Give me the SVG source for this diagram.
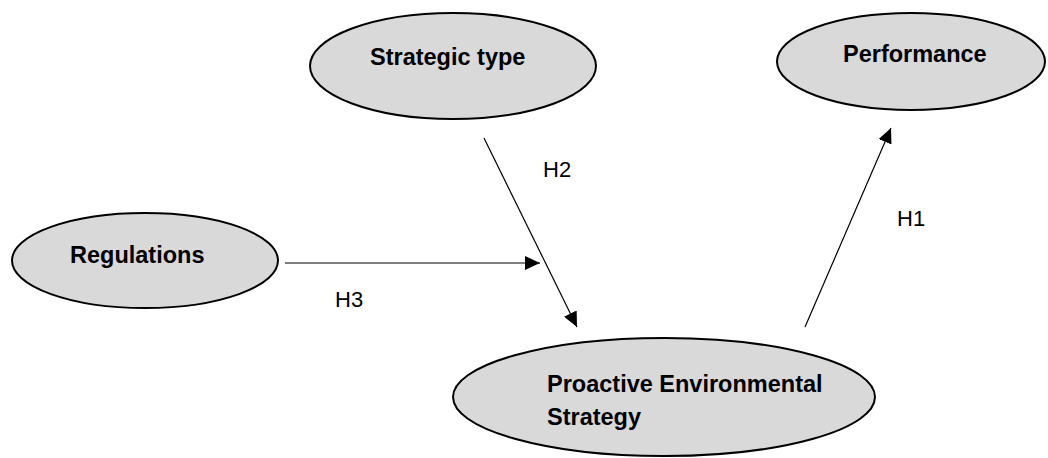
<svg xmlns="http://www.w3.org/2000/svg" width="1048" height="458" viewBox="0 0 1048 458">
  <style>
    .node ellipse { fill: #d9d9d9; stroke: #000; stroke-width: 2; }
    .node text { font-family: "Liberation Sans", Arial, sans-serif; font-weight: bold; font-size: 23.5px; fill: #000; }
    .edge line { stroke: #000; stroke-width: 1.2; fill: none; }
    .lbl { font-family: "Liberation Sans", Arial, sans-serif; font-size: 22px; fill: #000; }
  </style>
  <defs>
    <marker id="arrow" markerUnits="userSpaceOnUse" markerWidth="16" markerHeight="14" viewBox="0 0 16 14" refX="15" refY="7" orient="auto">
      <path d="M0,0 L15,7 L0,14 Z" fill="#000"/>
    </marker>
  </defs>
  <rect width="1048" height="458" fill="#fff"/>

  <g id="strategic-type" class="node">
    <ellipse cx="453" cy="66" rx="143" ry="53"/>
    <text x="370" y="65">Strategic type</text>
  </g>
  <g id="performance" class="node">
    <ellipse cx="911" cy="61.5" rx="134" ry="48.5"/>
    <text x="843" y="62">Performance</text>
  </g>
  <g id="regulations" class="node">
    <ellipse cx="145" cy="260.5" rx="133" ry="47.5"/>
    <text x="70" y="263">Regulations</text>
  </g>
  <g id="proactive" class="node">
    <ellipse cx="664" cy="397" rx="211" ry="59"/>
    <text x="547" y="392">Proactive Environmental</text>
    <text x="547" y="425">Strategy</text>
  </g>

  <g id="connectors" class="edge">
    <line x1="484" y1="138" x2="577" y2="327" marker-end="url(#arrow)"/>
    <line x1="285" y1="263" x2="540" y2="263" marker-end="url(#arrow)"/>
    <line x1="805" y1="327" x2="891" y2="128" marker-end="url(#arrow)"/>
    <text class="lbl" x="543" y="177">H2</text>
    <text class="lbl" x="335" y="307">H3</text>
    <text class="lbl" x="897" y="226">H1</text>
  </g>
</svg>
